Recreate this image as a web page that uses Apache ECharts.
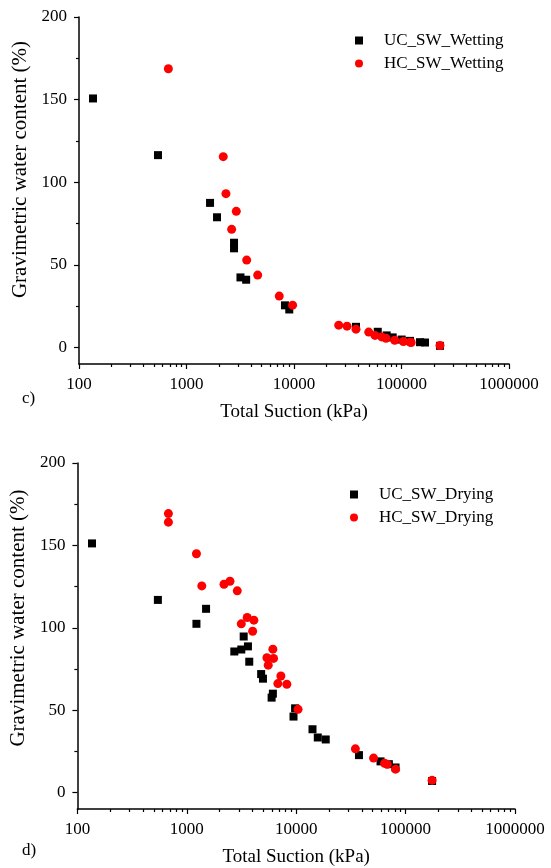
<!DOCTYPE html>
<html>
<head>
<meta charset="utf-8">
<script src="https://cdn.jsdelivr.net/npm/echarts@6/dist/echarts.min.js"></script>
<style>
  html, body { margin: 0; padding: 0; background: #fff; }
  #canvas { width: 551px; height: 868px; }
</style>
</head>
<body>
<div id="canvas"></div>
<script>
// c) wetting
var ucWetSuction = [135, 543, 1656, 1923, 2768, 2768, 3176, 3589, 8240, 9036, 37740, 60140, 72800, 82780, 100400, 120000, 148600, 165500, 228000];
var ucWetWater   = [150.7, 116.4, 87.5, 78.8, 63.4, 60.0, 42.4, 41.0, 25.5, 23.0, 12.5, 9.5, 7.3, 6.1, 4.8, 4.0, 3.2, 3.0, 1.0];
var hcWetSuction = [678, 2197, 2328, 2905, 2630, 3630, 4594, 7295, 9703, 26060, 31140, 37740, 49550, 56650, 65430, 71770, 86450, 104000, 120000, 123000, 228000];
var hcWetWater   = [168.7, 115.5, 93.1, 82.4, 71.5, 52.9, 43.8, 31.1, 25.6, 13.5, 12.9, 11.1, 9.3, 7.3, 6.4, 5.6, 4.4, 3.6, 3.2, 3.0, 1.2];

// d) drying
var ucDrySuction = [136, 544, 1225, 1500, 2718, 3148, 3311, 3622, 3723, 4783, 4968, 5960, 6120, 9450, 9770, 14090, 15750, 18620, 37470, 58990, 70310, 80900, 174600];
var ucDryWater   = [151.2, 116.9, 102.4, 111.5, 85.6, 86.8, 94.7, 88.7, 79.4, 71.9, 69.1, 57.6, 60.0, 46.1, 51.1, 38.4, 33.4, 32.2, 22.7, 18.9, 17.2, 15.2, 7.0];
var hcDrySuction = [679, 679, 1225, 1371, 2188, 2482, 2893, 3148, 3565, 3998, 4103, 5400, 5550, 6120, 6210, 6798, 7244, 8210, 10400, 34750, 50960, 64270, 67930, 80900, 174600];
var hcDryWater   = [169.3, 164.1, 144.9, 125.4, 126.4, 128.2, 122.4, 102.4, 106.2, 97.9, 104.6, 81.8, 77.3, 87.0, 81.4, 66.1, 70.7, 65.7, 50.5, 26.5, 20.9, 17.7, 17.1, 14.2, 7.4];

// ticks
var waterTicks = [0, 50, 100, 150, 200];
var waterMinorTicks = [25, 75, 125, 175];
var suctionMinorTicks = [200, 300, 400, 500, 600, 700, 800, 900,
    2000, 3000, 4000, 5000, 6000, 7000, 8000, 9000,
    20000, 30000, 40000, 50000, 60000, 70000, 80000, 90000,
    200000, 300000, 400000, 500000, 600000, 700000, 800000, 900000];

var FONT = 'Liberation Serif';

function pairs(xs, ys) {
    return xs.map(function (x, i) { return [x, ys[i]]; });
}

function xMain(g) {
    return {
        type: 'log', gridIndex: g, min: 100, max: 1000000, position: 'bottom',
        name: 'Total Suction (kPa)', nameLocation: 'middle', nameGap: 39,
        nameTextStyle: { fontFamily: FONT, fontSize: 19, color: '#000' },
        axisLine: { onZero: false, lineStyle: { color: '#000', width: 1.5 } },
        axisTick: { length: 5, lineStyle: { color: '#000', width: 1.2 } },
        axisLabel: { margin: 12, fontFamily: FONT, fontSize: 17, color: '#000',
            formatter: function (v) { return String(Math.round(v)); } },
        splitLine: { show: false }
    };
}
function xMinor(g) {
    return {
        type: 'log', gridIndex: g, min: 100, max: 1000000, position: 'bottom',
        axisLine: { show: false, onZero: false },
        axisTick: { length: 3, customValues: suctionMinorTicks, lineStyle: { color: '#000', width: 1.2 } },
        axisLabel: { show: false },
        splitLine: { show: false }
    };
}
function yMain(g, gap, shift) {
    return {
        type: 'value', gridIndex: g, min: -10, max: 200, position: 'left',
        name: 'Gravimetric water content (%)', nameLocation: 'middle', nameGap: gap,
        nameTextStyle: { fontFamily: FONT, fontSize: 21, color: '#000', padding: [0, 0, 0, shift] },
        axisLine: { show: true, onZero: false, lineStyle: { color: '#000', width: 1.5 } },
        axisTick: { show: true, length: 5, customValues: waterTicks, lineStyle: { color: '#000', width: 1.2 } },
        axisLabel: { margin: 12, customValues: waterTicks, fontFamily: FONT, fontSize: 17, color: '#000' },
        splitLine: { show: false }
    };
}
function yMinor(g) {
    return {
        type: 'value', gridIndex: g, min: -10, max: 200, position: 'left',
        axisLine: { show: false, onZero: false },
        axisTick: { show: true, length: 3, customValues: waterMinorTicks, lineStyle: { color: '#000', width: 1.2 } },
        axisLabel: { show: false },
        splitLine: { show: false }
    };
}

var legendText = { fontFamily: FONT, fontSize: 17, lineHeight: 17, color: '#000', padding: [0, 0, 0, 16] };

var myChart = echarts.init(document.getElementById('canvas'));
var option = {
    animation: false,
    backgroundColor: '#fff',
    title: [
        { text: 'c)', left: 22, top: 390, padding: 0, textStyle: { fontFamily: FONT, fontSize: 17, fontWeight: 'normal', color: '#000' } },
        { text: 'd)', left: 22, top: 842, padding: 0, textStyle: { fontFamily: FONT, fontSize: 17, fontWeight: 'normal', color: '#000' } }
    ],
    legend: [
        {
            orient: 'vertical', left: 350, top: 27, itemWidth: 8, itemHeight: 8, itemGap: 6,
            textStyle: legendText,
            data: [{ name: 'UC_SW_Wetting', icon: 'rect' }, { name: 'HC_SW_Wetting', icon: 'circle' }]
        },
        {
            orient: 'vertical', left: 345, top: 481, itemWidth: 8, itemHeight: 8, itemGap: 6,
            textStyle: legendText,
            data: [{ name: 'UC_SW_Drying', icon: 'rect' }, { name: 'HC_SW_Drying', icon: 'circle' }]
        }
    ],
    grid: [
        { left: 79, top: 17, width: 430, height: 347 },
        { left: 76, top: 463, width: 439, height: 349 }
    ],
    xAxis: [xMain(0), xMinor(0), xMain(1), xMinor(1)],
    yAxis: [yMain(0, 46, 42), yMinor(0), yMain(1, 43, 36), yMinor(1)],
    series: [
        { name: 'UC_SW_Wetting', type: 'scatter', xAxisIndex: 0, yAxisIndex: 0, symbol: 'rect', symbolSize: 8,
          itemStyle: { color: '#000', opacity: 1 }, data: pairs(ucWetSuction, ucWetWater) },
        { name: 'HC_SW_Wetting', type: 'scatter', xAxisIndex: 0, yAxisIndex: 0, symbol: 'circle', symbolSize: 9,
          itemStyle: { color: '#ff0000', opacity: 1 }, data: pairs(hcWetSuction, hcWetWater) },
        { name: 'UC_SW_Drying', type: 'scatter', xAxisIndex: 2, yAxisIndex: 2, symbol: 'rect', symbolSize: 8,
          itemStyle: { color: '#000', opacity: 1 }, data: pairs(ucDrySuction, ucDryWater) },
        { name: 'HC_SW_Drying', type: 'scatter', xAxisIndex: 2, yAxisIndex: 2, symbol: 'circle', symbolSize: 9,
          itemStyle: { color: '#ff0000', opacity: 1 }, data: pairs(hcDrySuction, hcDryWater) }
    ]
};
myChart.setOption(option);
</script>
</body>
</html>
